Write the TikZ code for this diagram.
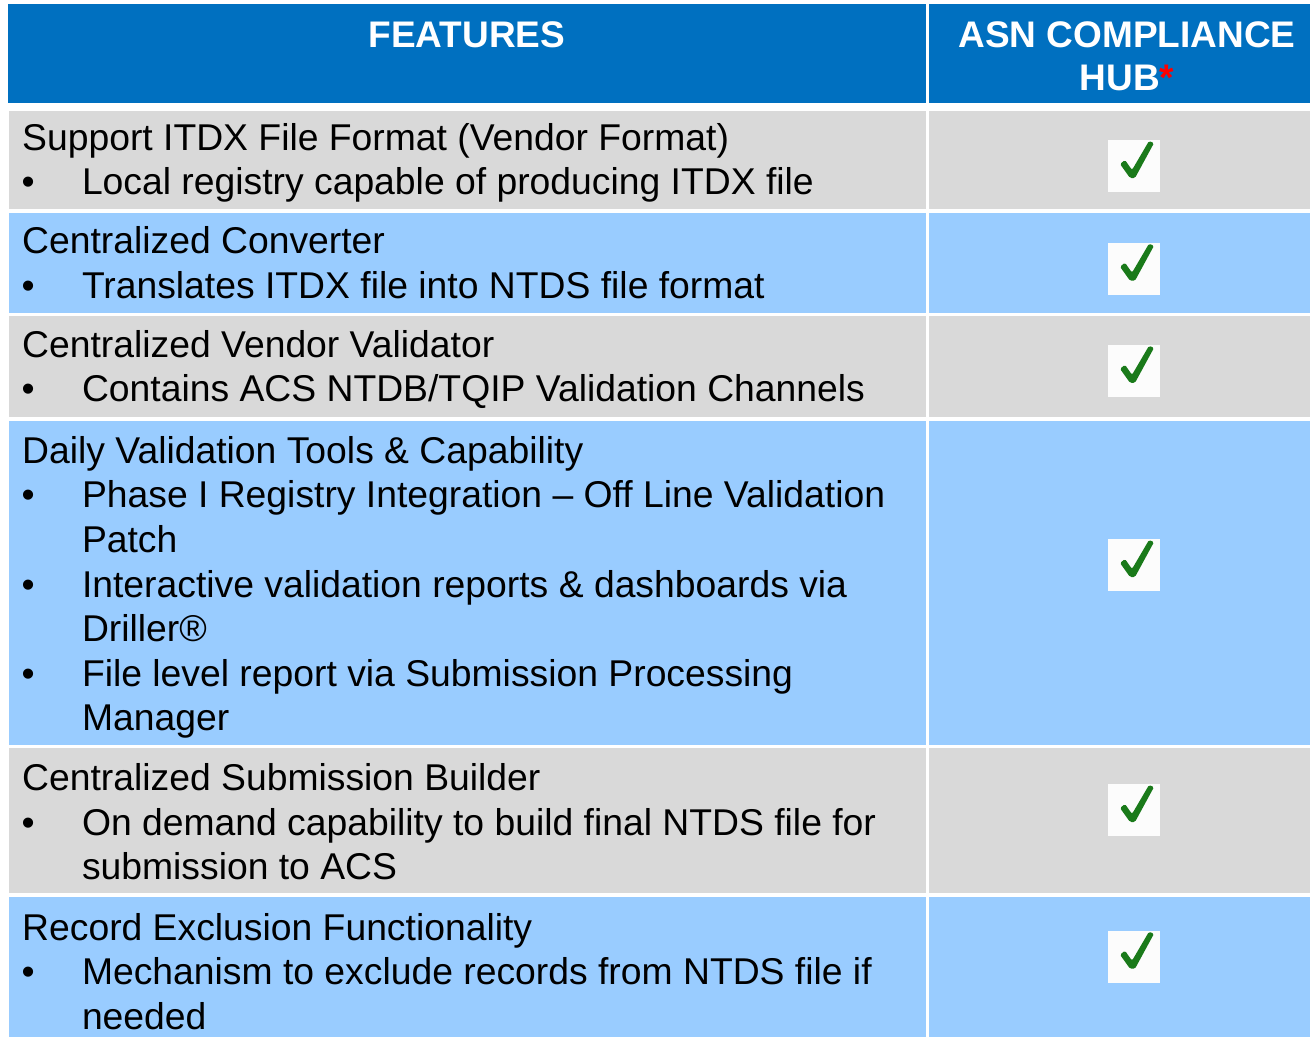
\documentclass[tikz,border=0pt]{standalone}
\usepackage{fontspec}
\setmainfont{Liberation Sans}
\usetikzlibrary{positioning}

\definecolor{hdrblue}{HTML}{0070C0}
\definecolor{rowgray}{HTML}{D9D9D9}
\definecolor{rowblue}{HTML}{99CCFF}
\definecolor{tickgreen}{HTML}{1A7A1A}

\tikzset{
  cell/.style={anchor=north west, inner sep=0pt, outer sep=0pt, draw=none},
  hdr/.style={anchor=base, inner sep=0pt, text=white, font=\bfseries\fontsize{37}{44}\selectfont},
  txt/.style={anchor=base west, inner sep=0pt, font=\fontsize{37.3}{44}\selectfont},
  tickbox/.style={fill=white!99!black, minimum size=52pt, inner sep=0pt, outer sep=0pt},
  tick/.pic={
    \fill[tickgreen, rounded corners=1.5pt] (-14,-2) -- (-9,-6) -- (-2,4) -- (15,-25)
      -- (20,-23) -- (1,12) -- (-4,12) -- cycle;
  }
}

\begin{document}
\begin{tikzpicture}[x=1pt,y=-1pt]
\useasboundingbox[fill=white] (0,0) rectangle (1310,1037);

% header
\node[cell, fill=hdrblue, minimum width=918pt, minimum height=99pt] (h1) at (8,4) {};
\node[cell, fill=hdrblue, minimum width=381pt, minimum height=99pt] (h2) at (929,4) {};
\node[hdr] (hfeat) at (467,47) {FEATURES};
\node[hdr] (hasn) at (1127,47) {ASN COMPLIANCE};
\node[hdr] (hhub) at (1127,90.5) {HUB\textcolor{red}{*}};

% row cells
\node[cell, fill=rowgray, minimum width=917pt, minimum height=98.6pt] (f1) at (9,110.7) {};
\node[cell, fill=rowgray, minimum width=381pt, minimum height=98.6pt] (c1) at (929,110.7) {};
\node[cell, fill=rowblue, minimum width=917pt, minimum height=100.6pt] (f2) at (9,212.7) {};
\node[cell, fill=rowblue, minimum width=381pt, minimum height=100.6pt] (c2) at (929,212.7) {};
\node[cell, fill=rowgray, minimum width=917pt, minimum height=101.3pt] (f3) at (9,316) {};
\node[cell, fill=rowgray, minimum width=381pt, minimum height=101.3pt] (c3) at (929,316) {};
\node[cell, fill=rowblue, minimum width=917pt, minimum height=324.3pt] (f4) at (9,420.7) {};
\node[cell, fill=rowblue, minimum width=381pt, minimum height=324.3pt] (c4) at (929,420.7) {};
\node[cell, fill=rowgray, minimum width=917pt, minimum height=145pt] (f5) at (9,748.3) {};
\node[cell, fill=rowgray, minimum width=381pt, minimum height=145pt] (c5) at (929,748.3) {};
\node[cell, fill=rowblue, minimum width=917pt, minimum height=139.7pt] (f6) at (9,897.3) {};
\node[cell, fill=rowblue, minimum width=381pt, minimum height=139.7pt] (c6) at (929,897.3) {};

% row 1
\node[txt] (t1) at (22,150) {Support ITDX File Format (Vendor Format)};
\node[txt] (b1) at (21.5,194.6) {\textbullet};
\node[txt] (t1a) at (81.8,194.6) {Local registry capable of producing ITDX file};
% row 2
\node[txt] (t2) at (22,253.8) {Centralized Converter};
\node[txt] (b2) at (21.5,298.3) {\textbullet};
\node[txt] (t2a) at (81.8,298.3) {Translates ITDX file into NTDS file format};
% row 3
\node[txt] (t3) at (22,357.2) {Centralized Vendor Validator};
\node[txt] (b3) at (21.5,401.7) {\textbullet};
\node[txt] (t3a) at (81.8,401.7) {Contains ACS NTDB/TQIP Validation Channels};
% row 4
\node[txt] (t4) at (22,463.3) {Daily Validation Tools \& Capability};
\node[txt] (b4a) at (21.5,507.9) {\textbullet};
\node[txt] (t4a) at (81.8,507.9) {Phase I Registry Integration – Off Line Validation};
\node[txt] (t4b) at (81.8,552.5) {Patch};
\node[txt] (b4c) at (21.5,597.1) {\textbullet};
\node[txt] (t4c) at (81.8,597.1) {Interactive validation reports \& dashboards via};
\node[txt] (t4d) at (81.8,641.7) {Driller®};
\node[txt] (b4e) at (21.5,686.3) {\textbullet};
\node[txt] (t4e) at (81.8,686.3) {File level report via Submission Processing};
\node[txt] (t4f) at (81.8,730.9) {Manager};
% row 5
\node[txt] (t5) at (22,790.7) {Centralized Submission Builder};
\node[txt] (b5) at (21.5,835.3) {\textbullet};
\node[txt] (t5a) at (81.8,835.3) {On demand capability to build final NTDS file for};
\node[txt] (t5b) at (81.8,879.9) {submission to ACS};
% row 6
\node[txt] (t6) at (22,940) {Record Exclusion Functionality};
\node[txt] (b6) at (21.5,984.6) {\textbullet};
\node[txt] (t6a) at (81.8,984.6) {Mechanism to exclude records from NTDS file if};
\node[txt] (t6b) at (81.8,1029.2) {needed};

% check marks
\node[tickbox] (k1) at (1134,166) {};
\node[tickbox] (k2) at (1134,268.7) {};
\node[tickbox] (k3) at (1134,370.8) {};
\node[tickbox] (k4) at (1134,565) {};
\node[tickbox] (k5) at (1134,810) {};
\node[tickbox] (k6) at (1134,956.7) {};
\foreach \k in {k1,k2,k3,k4,k5,k6}
  \pic at (\k.center) {tick};
\end{tikzpicture}
\end{document}
